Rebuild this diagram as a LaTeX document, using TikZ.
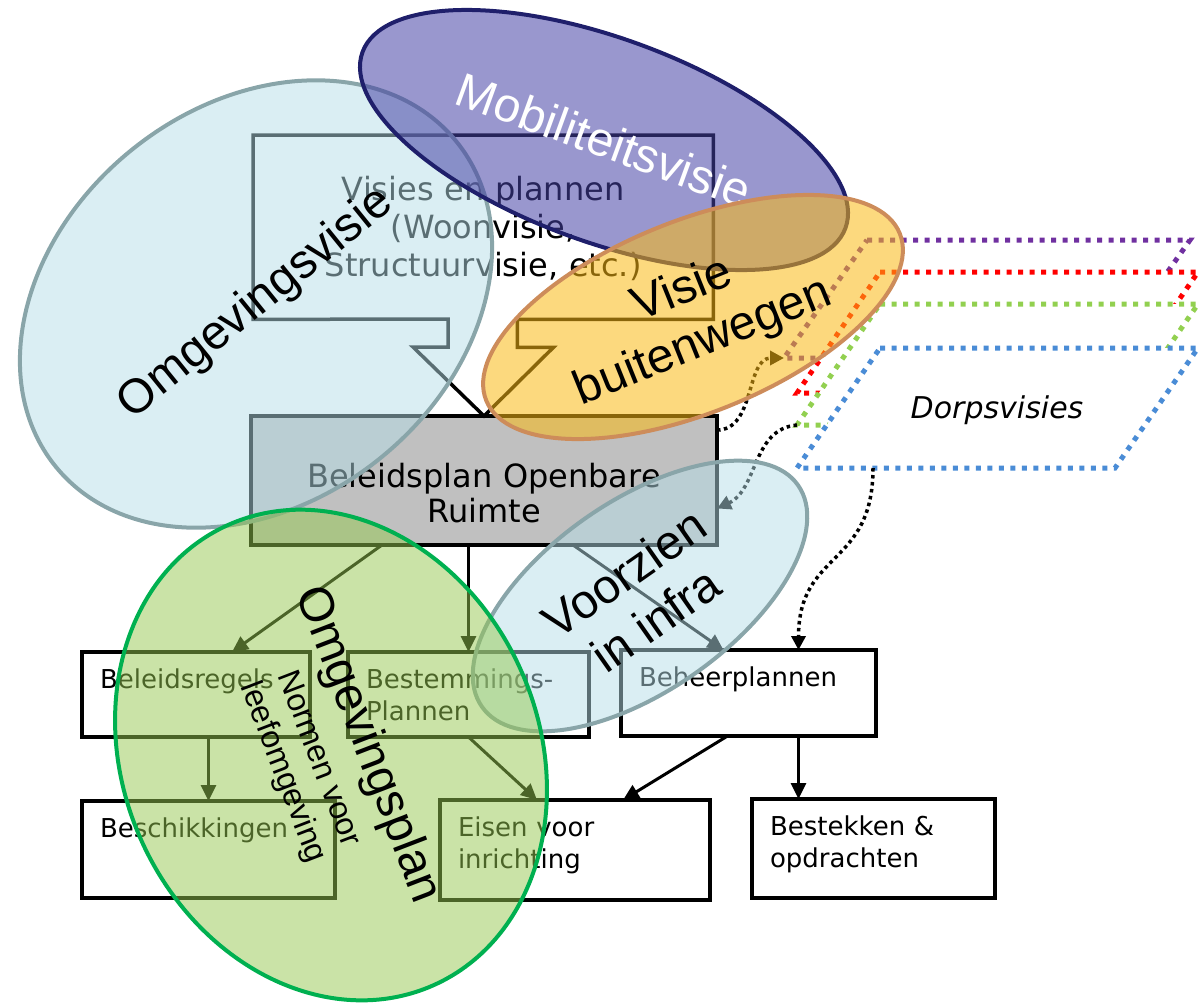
\documentclass[tikz,border=0pt]{standalone}
\usepackage{fontspec}
\setmainfont{Liberation Sans}
\newfontfamily\boxfont{DejaVu Sans}
\usetikzlibrary{positioning, shapes.geometric, arrows.meta, calc}

\definecolor{ovbluefill}{RGB}{181,221,231}
\definecolor{ovblueline}{RGB}{137,165,169}
\definecolor{ovpurplefill}{RGB}{70,66,165}
\definecolor{ovpurpleline}{RGB}{31,31,107}
\definecolor{ovorangefill}{RGB}{250,185,20}
\definecolor{ovorangeline}{RGB}{205,140,90}
\definecolor{ovgreenfill}{RGB}{150,200,80}
\definecolor{ovgreenline}{RGB}{0,176,80}
\definecolor{dpurple}{RGB}{112,48,160}
\definecolor{dred}{RGB}{255,0,0}
\definecolor{dgreen}{RGB}{146,208,80}
\definecolor{dblue}{RGB}{74,140,214}
\definecolor{boxgray}{RGB}{192,192,192}

\tikzset{
    boxline/.style={draw=black, line width=3.5pt},
    flowbox/.style={boxline, rectangle, anchor=north west, outer sep=0pt, inner xsep=18pt, inner ysep=0pt, align=left, text height=36pt, font=\boxfont\fontsize{26}{32}\selectfont},
    flowarrow/.style={-{Triangle[length=16pt,width=15pt]}, line width=3pt},
    dotarrow/.style={-{Triangle[length=14pt,width=14pt]}, line width=3.5pt, dash pattern=on 3.5pt off 3.5pt},
    dorp/.style={fill=white, line width=5pt, dash pattern=on 5pt off 6.5pt},
    oval/.style={ellipse, line width=4pt, fill opacity=0.5, text opacity=1, inner sep=0pt, align=center, font=\fontsize{48}{56}\selectfont}
}

\begin{document}
\begin{tikzpicture}[x=1pt, y=-1pt]
            \useasboundingbox (0,0) rectangle (1198,1002);

            \node [anchor=north west, inner xsep=10pt, inner ysep=0pt, text width=440pt, align=center, text height=65pt, text depth=119pt, font=\boxfont\fontsize{32}{38}\selectfont] (visies) at (253,135) {Visies en plannen\\(Woonvisie,\\Structuurvisie, etc.)};
            \node [boxline, fill=boxgray, anchor=north west, outer sep=0pt, inner xsep=10pt, inner ysep=0pt, text width=446pt, align=center, text height=71pt, text depth=58pt, font=\boxfont\fontsize{32}{35}\selectfont] (beleidsplan) at (251,416) {Beleidsplan Openbare\\Ruimte};
            \draw [boxline] (visies.south west) -- (visies.north west) -- (visies.north east) -- (visies.south east) -- ++(-196,0) -- ++(0,28) -- ++(36,0) -- (beleidsplan.north) -- ++(-71,-69) -- ++(35,0) -- ++(0,-28) -- cycle;

            \node [flowbox, text width=192pt, text depth=49pt] (beleidsregels) at (82,652) {Beleidsregels};
            \node [flowbox, text width=205pt, text depth=49pt] (bestemmingsplannen) at (348,652) {Bestemmings-\\Plannen};
            \node [flowbox, text width=219pt, text depth=50pt] (beheerplannen) at (621,650) {Beheerplannen};
            \node [flowbox, text width=217pt, text depth=61pt] (beschikkingen) at (82,801) {Beschikkingen};
            \node [flowbox, text width=234pt, text depth=64pt] (eisen) at (440,800) {Eisen voor\\inrichting};
            \node [flowbox, text width=207pt, text depth=63pt] (bestekken) at (752,799) {Bestekken \&\\opdrachten};

            \draw [flowarrow] ([xshift=-102pt]beleidsplan.south) -- ([xshift=36pt]beleidsregels.north);
            \draw [flowarrow] (beleidsplan.south -| bestemmingsplannen.north) -- (bestemmingsplannen.north);
            \draw [flowarrow] ([xshift=89pt]beleidsplan.south) -- ([xshift=-25pt]beheerplannen.north);
            \draw [flowarrow] (beleidsregels.south -| beschikkingen.north) -- (beschikkingen.north);
            \draw [flowarrow] (bestemmingsplannen.south) -- ([xshift=-38pt]eisen.north);
            \draw [flowarrow] ([xshift=-21pt]beheerplannen.south) -- ([xshift=48pt]eisen.north);
            \draw [flowarrow] ([xshift=50pt]beheerplannen.south) -- ([xshift=50pt]beheerplannen.south |- bestekken.north);

            \draw [dorp, draw=dpurple] (867,240) -- (1190,240) -- (1107,358) -- (784,358) coordinate (purplecorner) -- cycle;
            \draw [dorp, draw=dred] (880,272) -- (1198,272) -- (1115,393) -- (797,393) -- cycle;
            \draw [dorp, draw=dgreen] (880,304) -- (1198,304) -- (1115,425) -- (797,425) coordinate (greencorner) -- cycle;
            \draw [dorp, draw=dblue] (880,348) -- (1198,348) -- (1115,468) -- (873,468) coordinate (bluebottom) -- (797,468) -- cycle;
            \node [font=\boxfont\itshape\fontsize{30}{36}\selectfont] (dorpsvisies) at (997,410) {Dorpsvisies};

            \draw [dotarrow] ([yshift=-14pt]beleidsplan.north east) to [out=0, in=180] (purplecorner);
            \draw [dotarrow] (greencorner) to [out=185, in=25] ([yshift=-28pt]beleidsplan.east);
            \draw [dotarrow] (bluebottom) to [out=-90, in=90, looseness=1.3] ([xshift=50pt]beheerplannen.north);

            \node [oval, draw=ovblueline, fill=ovbluefill, minimum width=516pt, minimum height=396pt, rotate=39] (omgevingsvisie) at (256,304) {Omgevingsvisie};
            \node [oval, draw=ovpurpleline, fill=ovpurplefill, fill opacity=0.55, text=white, minimum width=514pt, minimum height=204pt, rotate=-20] (mobiliteitsvisie) at (604,140) {Mobiliteitsvisie};
            \node [oval, draw=ovorangeline, fill=ovorangefill, fill opacity=0.55, minimum width=446pt, minimum height=192pt, rotate=22] (buitenwegen) at (693,317) {Visie\\buitenwegen};
            \node [oval, draw=ovblueline, fill=ovbluefill, minimum width=386pt, minimum height=190pt, rotate=35] (voorzien) at (640,596) {Voorzien\\in infra};
            \node [oval, draw=ovgreenline, fill=ovgreenfill, minimum width=504pt, minimum height=416pt, rotate=-66] (omgevingsplan) at (331,755) {};
            \node [font=\fontsize{48}{56}\selectfont, rotate=-69] (omgevingsplantekst) at (367,745) {Omgevingsplan};
            \node [font=\fontsize{32}{38}\selectfont, align=center, rotate=-69] (normen) at (300,766) {Normen voor\\leefomgeving};
        \end{tikzpicture}
\end{document}
